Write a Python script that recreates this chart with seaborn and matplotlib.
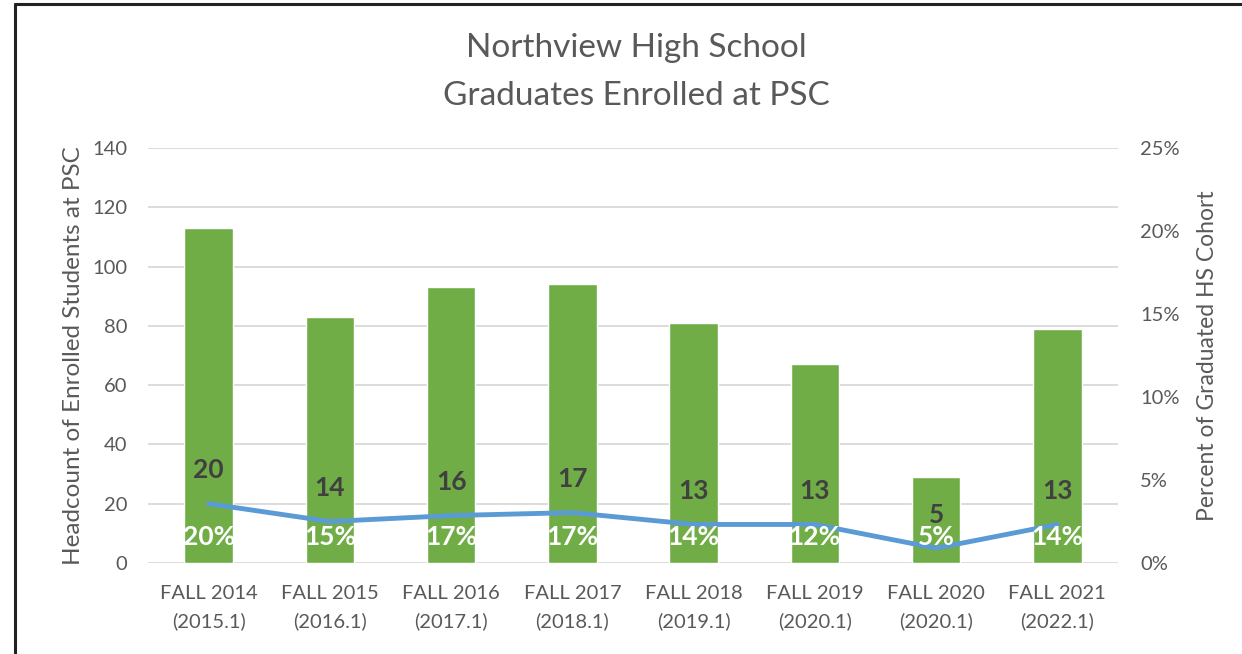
import matplotlib
matplotlib.use("Agg")
import matplotlib.pyplot as plt
import seaborn as sns
import pandas as pd
import numpy as np
from matplotlib.ticker import PercentFormatter, MultipleLocator
from matplotlib.lines import Line2D

categories = ["FALL 2014\n(2015.1)", "FALL 2015\n(2016.1)", "FALL 2016\n(2017.1)", "FALL 2017\n(2018.1)",
              "FALL 2018\n(2019.1)", "FALL 2019\n(2020.1)", "FALL 2020\n(2020.1)", "FALL 2021\n(2022.1)"]
bar_values = [113, 83, 93, 94, 81, 67, 29, 79]
line_values = [20, 14, 16, 17, 13, 13, 5, 13]
pct_labels = [20, 15, 17, 17, 14, 12, 5, 14]

sns.set_theme(style="white")
plt.rcParams['font.family'] = ['Lato', 'DejaVu Sans']

GRAY = "#595959"
df = pd.DataFrame({"cat": categories, "bar": bar_values, "line": line_values, "pct": pct_labels})

fig = plt.figure(figsize=(12.42, 6.54), dpi=100)
ax = fig.add_axes([148/1242, 1-563/654, (1118-148)/1242, (563-148)/654])

sns.barplot(data=df, x="cat", y="bar", ax=ax, color="#70AD47", width=0.4, saturation=1, zorder=2)
sns.lineplot(x=np.arange(len(categories)), y=df["line"], ax=ax, color="#5B9BD5", linewidth=3.5, zorder=3)

ax.set_xlim(-0.5, len(categories) - 0.5)
ax.set_ylim(0, 140)
ax.yaxis.set_major_locator(MultipleLocator(20))
ax.grid(axis="y", color="#D9D9D9", linewidth=1.3, zorder=0)
ax.set_axisbelow(True)
for s in ax.spines.values():
    s.set_visible(False)
ax.tick_params(axis="both", length=0, colors=GRAY, labelsize=14.5)
ax.tick_params(axis="x", pad=16)
ax.tick_params(axis="y", pad=15)
for t in ax.get_xticklabels():
    t.set_linespacing(1.7)
ax.set_xlabel("")
ax.set_ylabel("Headcount of Enrolled Students at PSC", color=GRAY, fontsize=17.5, labelpad=6)

for i, (v, p) in enumerate(zip(line_values, pct_labels)):
    ax.annotate(f"{v}", (i, v), xytext=(0, 24), textcoords="offset points", ha="center", va="center",
                fontsize=19, fontweight="bold", color="#404040", zorder=5)
    ax.annotate(f"{p}%", (i, 0), xytext=(0, 19), textcoords="offset points", ha="center", va="center",
                fontsize=19, fontweight="bold", color="white", zorder=5)

ax2 = ax.twinx()
ax2.set_ylim(0, 0.25)
ax2.yaxis.set_major_locator(MultipleLocator(0.05))
ax2.yaxis.set_major_formatter(PercentFormatter(1.0, decimals=0))
for s in ax2.spines.values():
    s.set_visible(False)
ax2.tick_params(axis="y", length=0, colors=GRAY, labelsize=14.5, pad=16)
ax2.set_ylabel("Percent of Graduated HS Cohort", color=GRAY, fontsize=16.5, labelpad=12)
ax2.grid(False)

fig.text(636/1242, 1-48/654, "Northview High School", ha="center", va="center", fontsize=24, color=GRAY)
fig.text(636/1242, 1-96/654, "Graduates Enrolled at PSC", ha="center", va="center", fontsize=24, color=GRAY)

fig.add_artist(Line2D([15/1242, 15/1242], [0, 1-4/654], transform=fig.transFigure, color="#222222", linewidth=2.2))
fig.add_artist(Line2D([15/1242, 1], [1-4/654, 1-4/654], transform=fig.transFigure, color="#222222", linewidth=2.2))

fig.savefig("out.png", dpi=100, facecolor="white")
